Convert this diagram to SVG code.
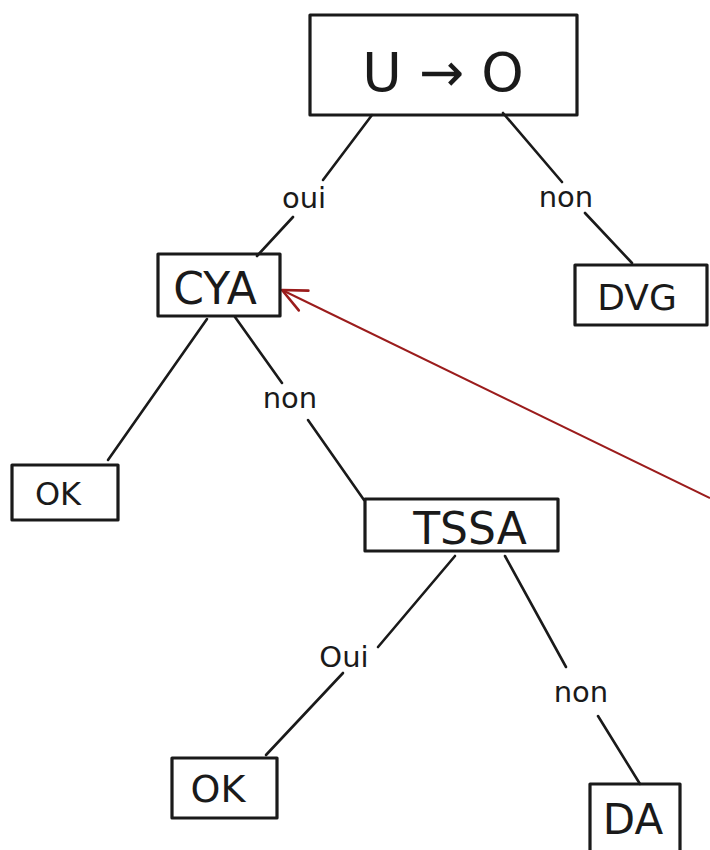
<svg xmlns="http://www.w3.org/2000/svg" width="710" height="850" viewBox="0 0 710 850">
<style>
.box{fill:none;stroke:#1a1a1a;stroke-width:3.2;stroke-linejoin:round;stroke-linecap:round}
.edge{fill:none;stroke:#1a1a1a;stroke-width:2.6;stroke-linecap:round}
.t{font-family:"DejaVu Sans","Liberation Sans",sans-serif;fill:#1a1a1a;text-anchor:middle;dominant-baseline:central}
.lbl{font-family:"DejaVu Sans","Liberation Sans",sans-serif;fill:#1a1a1a;text-anchor:middle;dominant-baseline:central;font-size:29px}
</style>
<defs>
<marker id="redarrow" viewBox="0 0 30 30" refX="28" refY="15" markerWidth="30" markerHeight="30" markerUnits="userSpaceOnUse" orient="auto">
<path d="M4 4 L28 15 L4 26" fill="none" stroke="#9b1c1c" stroke-width="2.6" stroke-linecap="round" stroke-linejoin="round"/>
</marker>
</defs>
<rect width="710" height="850" fill="#ffffff"/>
<g id="connectors">
<line class="edge" x1="372" y1="115" x2="323" y2="180"/>
<line class="edge" x1="293" y1="217" x2="257" y2="256"/>
<line class="edge" x1="503" y1="113" x2="562" y2="182"/>
<line class="edge" x1="585" y1="213" x2="632" y2="263"/>
<line class="edge" x1="207" y1="319" x2="108" y2="460"/>
<line class="edge" x1="235" y1="317" x2="282" y2="383"/>
<line class="edge" x1="308" y1="420" x2="364" y2="500"/>
<line class="edge" x1="455" y1="556" x2="378" y2="647"/>
<line class="edge" x1="343" y1="673" x2="266" y2="755"/>
<line class="edge" x1="505" y1="556" x2="566" y2="667"/>
<line class="edge" x1="598" y1="716" x2="640" y2="784"/>
<line x1="710" y1="498" x2="282" y2="290" stroke="#9b1c1c" stroke-width="2" marker-end="url(#redarrow)"/>
<text class="lbl" x="304" y="198">oui</text>
<text class="lbl" x="566" y="197">non</text>
<text class="lbl" x="290" y="398">non</text>
<text class="lbl" x="344" y="657">Oui</text>
<text class="lbl" x="581" y="692">non</text>
</g>
<g id="root">
<rect class="box" x="310" y="15" width="267" height="100"/>
<text class="t" x="443" y="72" font-size="54">U → O</text>
</g>
<g id="cva">
<rect class="box" x="158" y="254" width="122" height="62"/>
<text class="t" x="215" y="288" font-size="44">CYA</text>
</g>
<g id="dvg">
<rect class="box" x="575" y="265" width="132" height="60"/>
<text class="t" x="637" y="297" font-size="36">DVG</text>
</g>
<g id="ok1">
<rect class="box" x="12" y="465" width="106" height="55"/>
<text class="t" x="58" y="494" font-size="32">OK</text>
</g>
<g id="tssa">
<rect class="box" x="365" y="499" width="193" height="52"/>
<text class="t" x="470" y="528" font-size="44">TSSA</text>
</g>
<g id="ok2">
<rect class="box" x="172" y="758" width="105" height="60"/>
<text class="t" x="218" y="789" font-size="38">OK</text>
</g>
<g id="da">
<rect class="box" x="590" y="784" width="90" height="80"/>
<text class="t" x="633" y="819" font-size="42">DA</text>
</g>
</svg>
